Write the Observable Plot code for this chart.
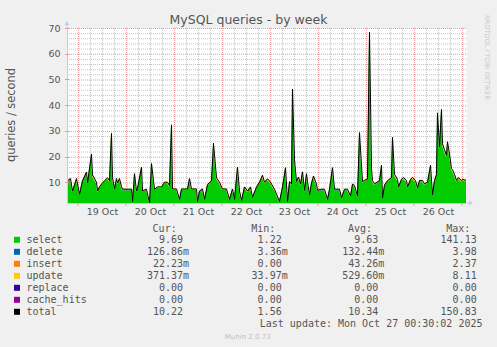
<!DOCTYPE html>
<html><head><meta charset="utf-8">
<script src="https://cdn.jsdelivr.net/npm/d3@7"></script>
<script src="https://cdn.jsdelivr.net/npm/@observablehq/plot@0.6"></script>
<style>
html,body{margin:0;padding:0;background:#f0f0f0;}
#chart{width:497px;height:347px;overflow:hidden;background:#f0f0f0;}
svg{display:block;}
</style></head><body><div id="chart"></div>
<script>
// ---- data ----
const startTime = "2025-10-18T18:30:00Z";
const hoursSinceStart = [
0,1.5,2.5,4.5,6,7.5,9.5,10,12,12.5,
14.5,15,16,18.5,20,21,22,22.5,23.5,24.5,
25,26,27,27.5,32,32.5,33.5,34.5,35,37,
37.5,39.5,41,42,43.5,45,47,48.5,50,51,
52,52.5,54.5,56,57,60,61,62,64.5,65,
66,67.5,68.5,70,72,73,74.5,76,77.5,79.5,
81,82.5,83.5,85,86,87,88.5,90,91.5,92.5,
94.5,96,97.5,98.5,100,101,102,103.5,106,107.5,
109,110,111,112,112.5,113.5,114.5,115.5,116.5,117.5,
118.5,119.5,120,121,122,123,124.5,125,127,128.5,
130,131,132.5,133.5,136,137,138.5,140,141.5,142.5,
143.5,145,146,147.5,148.5,150,151,152,152.5,153.5,
156,157,157.5,158.5,160,162,162.5,163.5,165,165.5,
167,168,169.5,170,171.5,172.5,174,175,176,177.5,
178.5,180,181.5,182.5,183.5,184.5,185,186,187,187.5,
188.5,189.5,190,191,192,192.5,193.5,194.5,195.5,197,
197.5,199.5];
const selectQ = [
10.2,11.0,6.3,11.0,5.1,10.2,13.4,9.3,20.3,12.3,
9.6,6.3,7.9,10.2,11.3,10.2,28.3,11.3,7.1,11.0,
9.3,11.0,8.0,7.0,7.0,2.4,12.8,6.3,7.3,15.3,
6.3,7.0,1.8,16.7,7.0,7.9,7.9,9.6,9.6,8.3,
31.6,7.1,7.1,3.2,7.1,7.1,11.0,7.1,7.1,2.4,
6.3,7.1,3.2,8.7,10.2,24.5,11.3,9.6,7.1,7.1,
3.2,7.1,3.2,15.3,6.3,2.8,7.9,6.3,7.9,4.0,
7.9,9.6,12.2,9.6,10.9,10.2,8.9,7.0,2.4,7.9,
15.1,2.4,9.9,8.9,45.4,18.0,9.9,11.5,8.9,13.5,
6.6,12.8,9.9,5.0,9.3,11.9,8.9,6.6,7.0,7.0,
3.2,7.0,15.1,7.0,7.0,3.8,7.0,7.0,4.5,8.9,
8.3,4.5,28.6,9.9,10.3,10.9,67.3,14.9,10.2,9.0,
10.2,16.0,3.7,8.5,10.2,11.3,26.8,12.6,10.7,8.0,
10.7,11.3,10.3,8.0,10.7,11.3,10.3,7.6,10.3,10.3,
9.0,9.6,16.0,5.0,10.3,12.5,36.2,23.2,37.5,24.3,
22.0,19.9,25.1,20.3,14.8,14.3,12.6,10.3,11.3,10.2,
10.7,10.3];
const deleteQ = [
0.13,0.14,0.12,0.14,0.11,0.13,0.15,0.13,0.18,0.14,
0.13,0.12,0.12,0.13,0.14,0.13,0.22,0.14,0.12,0.14,
0.13,0.14,0.12,0.12,0.12,0.10,0.14,0.12,0.12,0.16,
0.12,0.12,0.09,0.16,0.12,0.12,0.12,0.13,0.13,0.13,
0.24,0.12,0.12,0.10,0.12,0.12,0.14,0.12,0.12,0.10,
0.12,0.12,0.10,0.13,0.13,0.20,0.14,0.13,0.12,0.12,
0.10,0.12,0.10,0.16,0.12,0.10,0.12,0.12,0.12,0.11,
0.12,0.13,0.14,0.13,0.14,0.13,0.13,0.12,0.10,0.12,
0.16,0.10,0.13,0.13,0.30,0.18,0.13,0.14,0.13,0.15,
0.12,0.14,0.13,0.11,0.13,0.14,0.13,0.12,0.12,0.12,
0.10,0.12,0.16,0.12,0.12,0.11,0.12,0.12,0.11,0.13,
0.13,0.11,0.22,0.13,0.13,0.14,0.40,0.16,0.13,0.13,
0.13,0.17,0.11,0.13,0.13,0.14,0.21,0.14,0.13,0.12,
0.13,0.14,0.13,0.12,0.13,0.14,0.13,0.12,0.13,0.13,
0.13,0.13,0.17,0.11,0.13,0.14,0.26,0.20,0.28,0.20,
0.19,0.18,0.20,0.18,0.16,0.15,0.14,0.13,0.14,0.13,
0.13,0.13];
const insertQ = [
0.04,0.05,0.03,0.05,0.02,0.04,0.06,0.04,0.08,0.05,
0.04,0.03,0.03,0.04,0.05,0.04,0.12,0.05,0.03,0.05,
0.04,0.05,0.03,0.03,0.03,0.01,0.05,0.03,0.03,0.06,
0.03,0.03,0.01,0.06,0.03,0.03,0.03,0.04,0.04,0.04,
0.14,0.03,0.03,0.02,0.03,0.03,0.05,0.03,0.03,0.01,
0.03,0.03,0.02,0.04,0.04,0.10,0.05,0.04,0.03,0.03,
0.02,0.03,0.02,0.06,0.03,0.01,0.03,0.03,0.03,0.02,
0.03,0.04,0.05,0.04,0.05,0.04,0.04,0.03,0.01,0.03,
0.06,0.01,0.04,0.04,0.20,0.07,0.04,0.05,0.04,0.06,
0.03,0.05,0.04,0.02,0.04,0.05,0.04,0.03,0.03,0.03,
0.02,0.03,0.06,0.03,0.03,0.02,0.03,0.03,0.02,0.04,
0.04,0.02,0.12,0.04,0.04,0.05,0.30,0.06,0.04,0.04,
0.04,0.07,0.02,0.04,0.04,0.05,0.11,0.05,0.04,0.03,
0.04,0.05,0.04,0.03,0.04,0.05,0.04,0.03,0.04,0.04,
0.04,0.04,0.07,0.02,0.04,0.05,0.15,0.09,0.16,0.10,
0.09,0.08,0.10,0.08,0.06,0.06,0.05,0.04,0.05,0.04,
0.04,0.04];
const updateQ = [
0.5,0.5,0.4,0.5,0.4,0.5,0.6,0.5,0.6,0.6,
0.5,0.4,0.5,0.5,0.5,0.5,0.6,0.5,0.4,0.5,
0.5,0.5,0.4,0.4,0.4,0.3,0.6,0.4,0.4,0.6,
0.4,0.4,0.3,0.6,0.4,0.4,0.4,0.5,0.5,0.5,
0.6,0.4,0.4,0.3,0.4,0.4,0.5,0.4,0.4,0.3,
0.4,0.4,0.3,0.5,0.5,0.6,0.5,0.5,0.4,0.4,
0.3,0.4,0.3,0.6,0.4,0.3,0.4,0.4,0.4,0.3,
0.4,0.5,0.6,0.5,0.5,0.5,0.5,0.4,0.3,0.4,
0.6,0.3,0.5,0.5,0.6,0.7,0.5,0.6,0.5,0.6,
0.4,0.6,0.5,0.3,0.5,0.6,0.5,0.4,0.4,0.4,
0.3,0.4,0.6,0.4,0.4,0.3,0.4,0.4,0.3,0.5,
0.5,0.3,0.6,0.5,0.5,0.5,0.6,0.6,0.5,0.5,
0.5,0.6,0.3,0.5,0.5,0.6,0.6,0.6,0.5,0.4,
0.5,0.6,0.5,0.4,0.5,0.6,0.5,0.4,0.5,0.5,
0.5,0.5,0.6,0.3,0.5,0.6,0.6,0.6,0.6,0.6,
0.6,0.6,0.6,0.6,0.6,0.6,0.6,0.5,0.6,0.5,
0.5,0.5];

const seriesNames = ["select","delete","insert","update","replace","cache_hits","total"];
const seriesColors = ["#00CC00","#0066B3","#FF8000","#FFCC00","#330099","#990099","#000000"];
const curValues = ["9.69","126.86m","22.23m","371.37m","0.00","0.00","10.22"];
const minValues = ["1.22","3.36m","0.00","33.97m","0.00","0.00","1.56"];
const avgValues = ["9.63","132.44m","43.26m","529.60m","0.00","0.00","10.34"];
const maxValues = ["141.13","3.98","2.37","8.11","0.00","0.00","150.83"];
const yMajorTicks = [10,20,30,40,50,60,70];
const yMinorTicks = [4,6,8,12,14,16,18,22,24,26,28,32,34,36,38,42,44,46,48,52,54,56,58,62,64,66,68];
const titleText = "MySQL queries - by week";
const yLabelText = "queries / second";
const lastUpdateText = "Last update: Mon Oct 27 00:30:02 2025";
const versionText = "Munin 2.0.73";
const sideText = "RRDTOOL / TOBI OETIKER";
const endHours = 199.5;

// ---- build tables ----
const t0 = new Date(startTime).getTime();
const times = hoursSinceStart.map(h => new Date(t0 + h * 3600e3));
const layers = [["select", selectQ], ["delete", deleteQ], ["insert", insertQ], ["update", updateQ]];
const rows = layers.flatMap(([name, vals]) => vals.map((v, i) => ({time: times[i], series: name, value: v})));
const totalRows = times.map((t, i) => ({time: t, value: layers.reduce((s, [, v]) => s + v[i], 0)}));
const xDomain = [new Date(t0), new Date(t0 + endHours * 3600e3)];
const midnights = d3.utcDay.range(xDomain[0], xDomain[1]);
const sixHours = d3.utcHour.every(6).range(xDomain[0], xDomain[1]).filter(d => d.getUTCHours() !== 0);
const noons = midnights.map(d => d3.utcHour.offset(d, 12)).filter(d => d < xDomain[1]);

const axisColor = "#c4cbee";
const minorColor = "#c4c4c4";
const majorColor = "#e89a9a";
const plot = Plot.plot({
  width: 497, height: 220,
  marginLeft: 67, marginRight: 31, marginTop: 28, marginBottom: 17,
  style: {background: "transparent", fontFamily: "'DejaVu Sans', sans-serif", fontSize: "9.5px", color: "#555"},
  x: {type: "utc", domain: xDomain},
  y: {domain: [2, 70]},
  color: {domain: seriesNames, range: seriesColors},
  marks: [
    Plot.frame({fill: "white", stroke: null}),
    Plot.ruleY(yMinorTicks, {stroke: minorColor, strokeDasharray: "1,1"}),
    Plot.ruleX(sixHours, {stroke: minorColor, strokeDasharray: "1,1"}),
    Plot.ruleY(yMajorTicks, {stroke: majorColor, strokeDasharray: "1,1"}),
    Plot.ruleX(midnights, {stroke: majorColor, strokeDasharray: "1,1"}),
    Plot.areaY(rows, {x: "time", y: "value", z: "series", fill: "series", order: null, curve: "linear", clip: true}),
    Plot.lineY(totalRows, {x: "time", y: "value", stroke: "#000", strokeWidth: 1, curve: "linear", clip: true}),
    Plot.axisY(yMajorTicks, {tickSize: 0, tickPadding: 7, label: null, fill: "#555"}),
    Plot.axisX(noons, {tickSize: 0, tickPadding: 5, label: null, tickFormat: d3.utcFormat("%d %b"), fill: "#555"}),
    Plot.ruleY([2], {stroke: axisColor}),
    Plot.ruleX([xDomain[0]], {stroke: axisColor, y1: 2, y2: 70})
  ]
});

const svg = d3.select(plot);
const xs = plot.scale("x"), ys = plot.scale("y");
const x0 = xs.apply(xDomain[0]), x1 = xs.apply(xDomain[1]);
const yb = ys.apply(2), yt = ys.apply(70);
// axis extensions with arrows
svg.append("line").attr("x1", x0).attr("x2", x0).attr("y1", yt).attr("y2", yt - 4).attr("stroke", axisColor);
svg.append("path").attr("d", `M${x0-2.5},${yt-3}L${x0},${yt-7}L${x0+2.5},${yt-3}Z`).attr("fill", axisColor);
svg.append("line").attr("x1", x1).attr("x2", x1 + 4).attr("y1", yb).attr("y2", yb).attr("stroke", axisColor);
svg.append("path").attr("d", `M${x1+3},${yb-2.5}L${x1+7},${yb}L${x1+3},${yb+2.5}Z`).attr("fill", axisColor);
// tick marks on axes
midnights.forEach(d => {
  const x = xs.apply(d);
  svg.append("line").attr("x1", x).attr("x2", x).attr("y1", yb).attr("y2", yb + 3).attr("stroke", majorColor);
});
yMajorTicks.forEach(v => {
  const y = Math.round(ys.apply(v)) + 0.5;
  svg.append("line").attr("x1", x0 - 2).attr("x2", x0 + 2).attr("y1", y).attr("y2", y).attr("stroke", majorColor);
});
// title, y label, side text
svg.append("text").attr("x", 248.5).attr("y", 24).attr("text-anchor", "middle")
  .attr("font-family", "'DejaVu Sans', sans-serif").attr("font-size", 12.5).attr("fill", "#555").text(titleText);
svg.append("text").attr("transform", "translate(15,115) rotate(-90)").attr("text-anchor", "middle")
  .attr("font-family", "'DejaVu Sans', sans-serif").attr("font-size", 11.4).attr("fill", "#555").text(yLabelText);
svg.append("text").attr("transform", "translate(484.5,15) rotate(90)").attr("text-anchor", "start")
  .attr("font-family", "'DejaVu Sans', sans-serif").attr("font-size", 6.6).attr("fill", "#c8c8c8").text(sideText);

document.getElementById("chart").appendChild(plot);

// ---- legend (below the plot svg) ----
const off = 220;
const leg = d3.select("#chart").append("svg").attr("width", 497).attr("height", 127);
const mono = "'DejaVu Sans Mono', monospace";
const colEnds = [183, 281.7, 378.3, 476.7];
const headers = ["Cur:", "Min:", "Avg:", "Max:"];
const txt = (x, y, s, anchor, opts = {}) => leg.append("text").attr("x", x).attr("y", y - off)
  .attr("text-anchor", anchor).attr("font-family", opts.family || mono).attr("font-size", opts.size || 10)
  .attr("fill", opts.fill || "#555").text(s);
headers.forEach((h, j) => txt(colEnds[j] - 6.3, 231.5, h, "end"));
const cols = [curValues, minValues, avgValues, maxValues];
seriesNames.forEach((name, i) => {
  const base = 243.3 + 12 * i;
  leg.append("rect").attr("x", 14).attr("y", base - 6.5 - off).attr("width", 6).attr("height", 6).attr("fill", seriesColors[i]);
  txt(26.5, base, name, "start");
  cols.forEach((arr, j) => {
    const s = arr[i];
    const suffix = /[a-zA-Z]$/.test(s) ? s.slice(-1) : "";
    const num = suffix ? s.slice(0, -1) : s;
    txt(colEnds[j], base, num, "end");
    if (suffix) txt(colEnds[j], base, suffix, "start");
  });
});
txt(482.5, 327.3, lastUpdateText, "end");
txt(247.7, 338.5, versionText, "middle", {family: "'DejaVu Sans', sans-serif", size: 7, fill: "#c0c0c0"});
</script></body></html>
